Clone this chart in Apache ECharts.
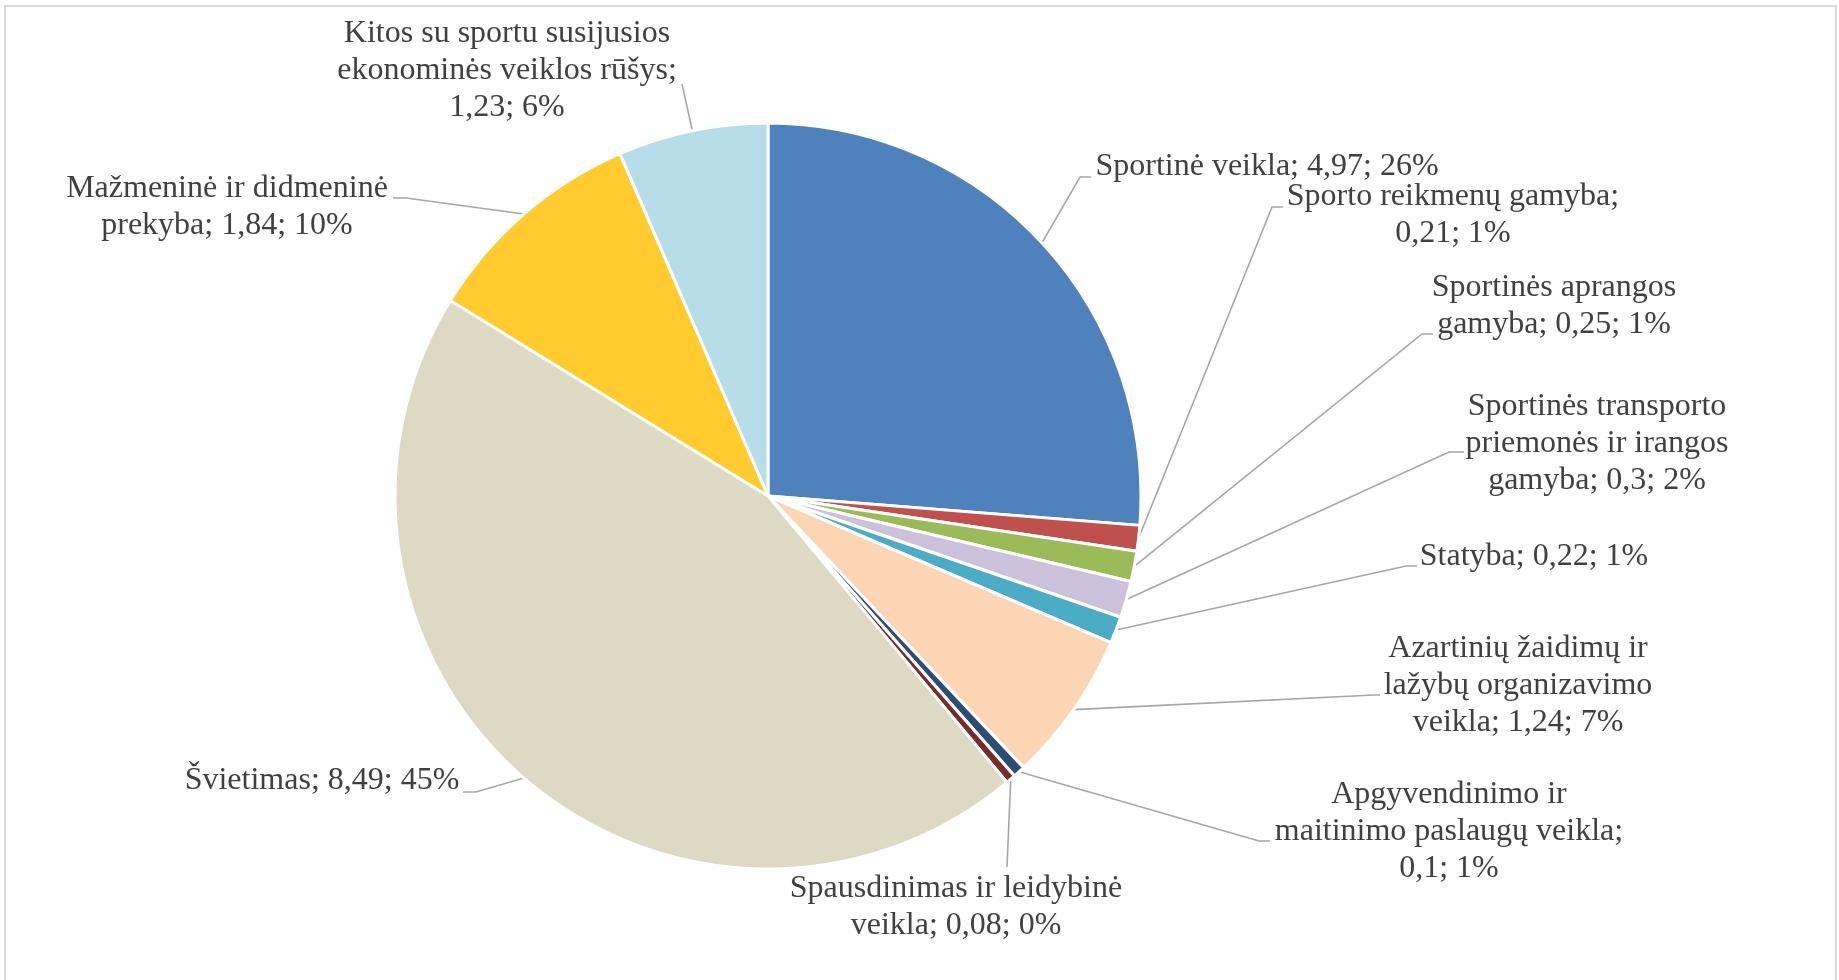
<!DOCTYPE html>
<html>
<head>
<meta charset="utf-8">
<script src="https://cdn.jsdelivr.net/npm/echarts@6/dist/echarts.min.js"></script>
<style>
html, body { margin: 0; padding: 0; background: #ffffff; }
#chart { width: 1839px; height: 980px; }
</style>
</head>
<body>
<div id="chart"></div>
<script>
// ---- data ----
var categories = [
  'Sportinė veikla',
  'Sporto reikmenų gamyba',
  'Sportinės aprangos gamyba',
  'Sportinės transporto priemonės ir irangos gamyba',
  'Statyba',
  'Azartinių žaidimų ir lažybų organizavimo veikla',
  'Apgyvendinimo ir maitinimo paslaugų veikla',
  'Spausdinimas ir leidybinė veikla',
  'Švietimas',
  'Mažmeninė ir didmeninė prekyba',
  'Kitos su sportu susijusios ekonominės veiklos rūšys'
];
var values = [4.97, 0.21, 0.25, 0.3, 0.22, 1.24, 0.1, 0.08, 8.49, 1.84, 1.23];
// words per label line
var lineWords = [[4], [3, 2], [2, 3], [2, 3, 3], [3], [3, 2, 3], [2, 3, 2], [3, 3], [3], [3, 3], [4, 3, 2]];

// ---- styles / layout ----
var colors = ['#4F81BD', '#C0504D', '#9BBB59', '#CCC1DA', '#4BACC6', '#FCD5B5',
              '#2C4D75', '#772C2A', '#DDD9C3', '#FFCB2F', '#B7DDE8'];
// label centre and leader-line elbow/end points (layout only)
var labelLayouts = [
  { c: [1267, 167], e: [1080, 177], t: [1091, 177] },
  { c: [1453, 215], e: [1272, 207], t: [1283, 207] },
  { c: [1554, 306], e: [1422, 334], t: [1433, 334] },
  { c: [1597, 444], e: [1449, 452], t: [1464, 452] },
  { c: [1534, 557], e: [1406, 566], t: [1417, 566] },
  { c: [1518, 686], e: [1374, 695], t: [1380, 695] },
  { c: [1449, 832], e: [1259, 841], t: [1270, 841] },
  { c: [956, 907],  e: [1007, 867], t: [1007, 867] },
  { c: [322, 781],  e: [476, 792],  t: [463, 792] },
  { c: [227, 207],  e: [406, 198],  t: [393, 198] },
  { c: [507, 71],   e: [682, 84],   t: [682, 84] }
];

var total = values.reduce(function (a, b) { return a + b; }, 0);

function labelText(i) {
  var pct = Math.round(values[i] / total * 100);
  var full = categories[i] + '; ' + String(values[i]).replace('.', ',') + '; ' + pct + '%';
  var words = full.split(' ');
  var lines = [], k = 0;
  lineWords[i].forEach(function (n) {
    lines.push(words.slice(k, k + n).join(' '));
    k += n;
  });
  if (k < words.length) lines[lines.length - 1] += ' ' + words.slice(k).join(' ');
  return lines.join('\n');
}

var chart = echarts.init(document.getElementById('chart'));
chart.setOption({
  backgroundColor: '#ffffff',
  animation: false,
  graphic: [{
    type: 'rect',
    shape: { x: 5, y: 6, width: 1831, height: 1000 },
    style: { fill: 'none', stroke: '#D9D9D9', lineWidth: 2 },
    silent: true
  }],
  series: [{
    type: 'pie',
    center: [768, 496],
    radius: 373,
    startAngle: 90,
    clockwise: true,
    avoidLabelOverlap: false,
    data: categories.map(function (name, i) {
      return { name: name, value: values[i], itemStyle: { color: colors[i] } };
    }),
    itemStyle: { borderColor: '#ffffff', borderWidth: 3 },
    label: {
      show: true,
      formatter: function (p) { return labelText(p.dataIndex); },
      fontFamily: "'Liberation Serif', 'Times New Roman', serif",
      fontSize: 32,
      lineHeight: 37,
      color: '#404040',
      align: 'center'
    },
    labelLine: {
      show: true,
      length: 20,
      length2: 10,
      lineStyle: { color: '#A6A6A6', width: 1.6 }
    },
    labelLayout: function (params) {
      var L = labelLayouts[params.dataIndex];
      var p0 = params.labelLinePoints ? params.labelLinePoints[0] : L.e;
      return {
        x: L.c[0],
        y: L.c[1],
        align: 'center',
        verticalAlign: 'middle',
        labelLinePoints: [[p0[0], p0[1]], [L.e[0], L.e[1]], [L.t[0], L.t[1]]]
      };
    },
    emphasis: { disabled: true }
  }]
});
</script>
</body>
</html>
